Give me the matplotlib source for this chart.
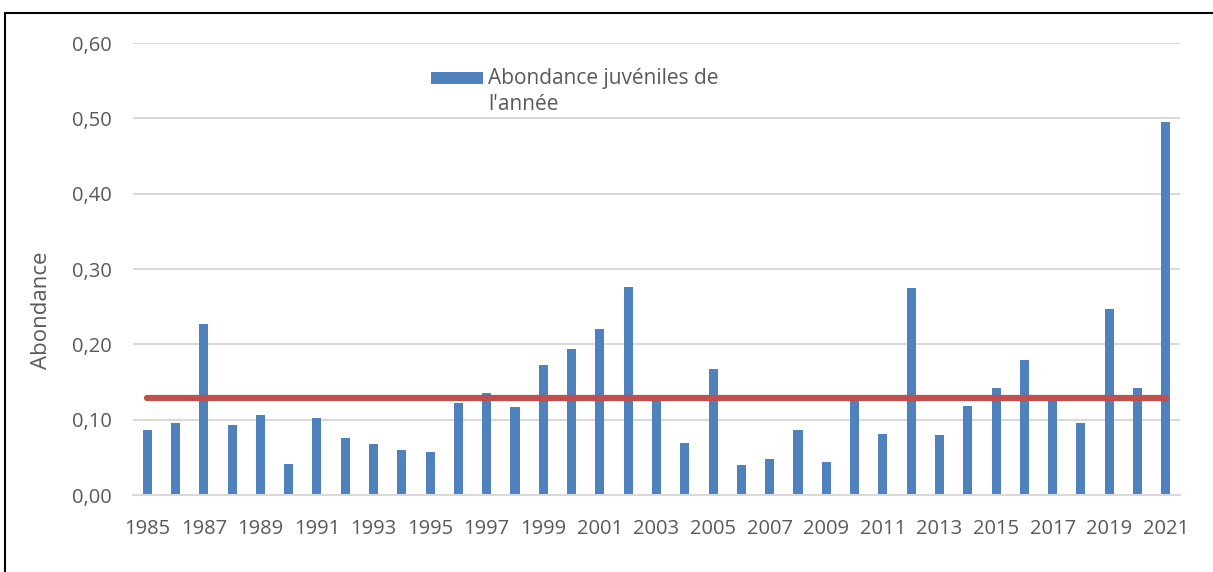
import matplotlib.pyplot as plt
from matplotlib.patches import Rectangle
from matplotlib.ticker import FuncFormatter

plt.rcParams['font.family'] = ['Open Sans', 'DejaVu Sans']

# juvenile abundance per year
years = list(range(1985, 2022))
abondance = [0.086, 0.096, 0.227, 0.093, 0.106, 0.041, 0.102, 0.076, 0.068, 0.060,
             0.057, 0.122, 0.135, 0.117, 0.173, 0.194, 0.220, 0.276, 0.127, 0.069,
             0.167, 0.040, 0.048, 0.086, 0.044, 0.127, 0.081, 0.275, 0.080, 0.118,
             0.142, 0.179, 0.126, 0.096, 0.247, 0.142, 0.495]
# average over the series (red line)
moyenne = 0.129
legend_label = "Abondance juvéniles de\nl'année"

W, H = 1213, 572
fig = plt.figure(figsize=(W / 100, H / 100), dpi=100)
ax = fig.add_axes([133 / W, 1 - 495 / H, (1180 - 133) / W, (495 - 43) / H])

x = list(range(len(years)))
ax.bar(x, abondance, width=0.32, color='#4f81bd', zorder=2)
ax.plot(x, [moyenne] * len(x), color='#c0504d', lw=4.5, solid_capstyle='round', zorder=3)

ax.set_xlim(-0.5, len(years) - 0.5)
ax.set_ylim(0, 0.6)
ax.set_yticks([0, 0.1, 0.2, 0.3, 0.4, 0.5, 0.6])
ax.yaxis.set_major_formatter(FuncFormatter(lambda v, p: ('%.2f' % v).replace('.', ',')))
ax.set_xticks(x[::2])
ax.set_xticklabels([str(y) for y in years[::2]])
ax.grid(axis='y', color='#d9d9d9', lw=1.5, zorder=0)
ax.set_axisbelow(True)
for s in ['top', 'right', 'left']:
    ax.spines[s].set_visible(False)
ax.spines['bottom'].set_color('#d9d9d9')
ax.spines['bottom'].set_linewidth(1.5)
ax.tick_params(length=0, labelsize=14.5, colors='#595959')
ax.tick_params(axis='x', pad=17)
ax.tick_params(axis='y', pad=15)
ax.set_ylabel('Abondance', fontsize=16, color='#595959')
ax.yaxis.set_label_coords((52 - 133) / 1047, (495 - 310) / 452)

# legend drawn by hand so the swatch sits on the first line of the label
fig.patches.append(Rectangle((431 / W, 1 - 84 / H), 52 / W, 12 / H, transform=fig.transFigure,
                             facecolor='#4f81bd', edgecolor='none'))
fig.text(488 / W, 1 - 68 / H, legend_label, fontsize=15, color='#595959',
         va='top', ha='left', linespacing=1.3)

# outer frame around the chart
fig.patches.append(Rectangle((5 / W, -0.1), 1.2, 1 - 13 / H + 0.1, transform=fig.transFigure,
                             fill=False, edgecolor='black', lw=1.5))

fig.savefig('out.png', dpi=100)
